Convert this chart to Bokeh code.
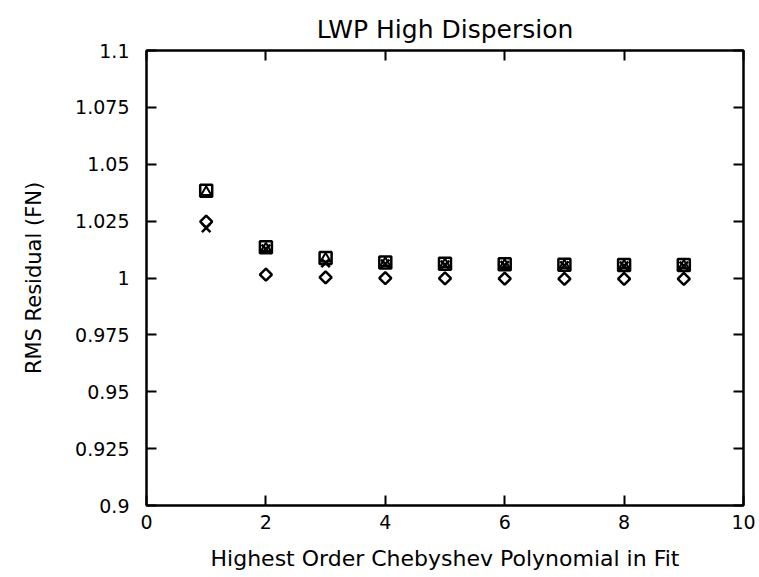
import math
from bokeh.plotting import figure
from bokeh.models import FixedTicker, LinearAxis, CustomJSTickFormatter, Range1d
from bokeh.embed import file_html
from bokeh.resources import INLINE

orders = [1, 2, 3, 4, 5, 6, 7, 8, 9]
rms_square = [1.0383, 1.0135, 1.0088, 1.0068, 1.0063, 1.0060, 1.0058, 1.0057, 1.0057]
rms_triangle = [1.0378, 1.0130, 1.0085, 1.0065, 1.0060, 1.0057, 1.0055, 1.0054, 1.0054]
rms_x = [1.0220, 1.0128, 1.0066, 1.0062, 1.0058, 1.0056, 1.0054, 1.0053, 1.0053]
rms_diamond = [1.0248, 1.0015, 1.0003, 0.9999, 0.9998, 0.9997, 0.9996, 0.9996, 0.9996]

x_ticks = [0, 2, 4, 6, 8, 10]
y_ticks = [0.9, 0.925, 0.95, 0.975, 1.0, 1.025, 1.05, 1.075, 1.1]

FONT = "DejaVu Sans"

p = figure(width=759, height=577, output_backend="svg", toolbar_location=None,
           x_range=Range1d(0, 10), y_range=Range1d(0.9, 1.1),
           min_border_left=146, min_border_right=16, min_border_top=50, min_border_bottom=72,
           title="LWP High Dispersion")
p.title.align = "center"
p.title.text_font = FONT
p.title.text_font_size = "25px"
p.title.text_font_style = "normal"
p.title.text_color = "black"
p.title.offset = 0
p.title.standoff = 14

p.grid.visible = False
p.outline_line_color = "black"
p.outline_line_width = 2
p.background_fill_color = "white"
p.border_fill_color = "white"

fmt = CustomJSTickFormatter(code="return String(parseFloat(tick.toFixed(3)));")
blank = CustomJSTickFormatter(code="return '';")

for ax in [p.xaxis[0], p.yaxis[0]]:
    ax.axis_line_color = "black"
    ax.axis_line_width = 2
    ax.major_tick_in = 10
    ax.major_tick_out = 0
    ax.major_tick_line_width = 2
    ax.minor_tick_line_color = None
    ax.major_label_text_font = FONT
    ax.major_label_text_font_size = "19px"
    ax.major_label_text_color = "black"
    ax.axis_label_text_font = FONT
    ax.axis_label_text_font_style = "normal"
    ax.axis_label_text_color = "black"
    ax.formatter = fmt

p.xaxis[0].ticker = FixedTicker(ticks=x_ticks)
p.yaxis[0].ticker = FixedTicker(ticks=y_ticks)
p.xaxis[0].axis_label = "Highest Order Chebyshev Polynomial in Fit"
p.xaxis[0].axis_label_text_font_size = "22px"
p.xaxis[0].major_label_standoff = 9
p.xaxis[0].axis_label_standoff = 14
p.yaxis[0].axis_label = "RMS Residual (FN)"
p.yaxis[0].axis_label_text_font_size = "21px"
p.yaxis[0].major_label_standoff = 17
p.yaxis[0].axis_label_standoff = 26

top = LinearAxis(ticker=FixedTicker(ticks=x_ticks), formatter=blank,
                 major_tick_in=10, major_tick_out=0, major_tick_line_width=2,
                 minor_tick_line_color=None, axis_line_width=2, major_label_standoff=0)
right = LinearAxis(ticker=FixedTicker(ticks=y_ticks), formatter=blank,
                   major_tick_in=10, major_tick_out=0, major_tick_line_width=2,
                   minor_tick_line_color=None, axis_line_width=2, major_label_standoff=0)
p.add_layout(top, "above")
p.add_layout(right, "right")

p.scatter(orders, rms_square, marker="square", size=12, fill_color=None,
          line_color="black", line_width=2.5)
p.scatter(orders, rms_triangle, marker="triangle", size=10, fill_color=None,
          line_color="black", line_width=2)
p.scatter(orders, rms_x, marker="x", size=12, line_color="black", line_width=2.5)
p.scatter(orders, rms_diamond, marker="square", angle=math.pi / 4, size=8.5,
          fill_color=None, line_color="black", line_width=2.5)

open("out.html", "w").write(file_html(p, INLINE))
